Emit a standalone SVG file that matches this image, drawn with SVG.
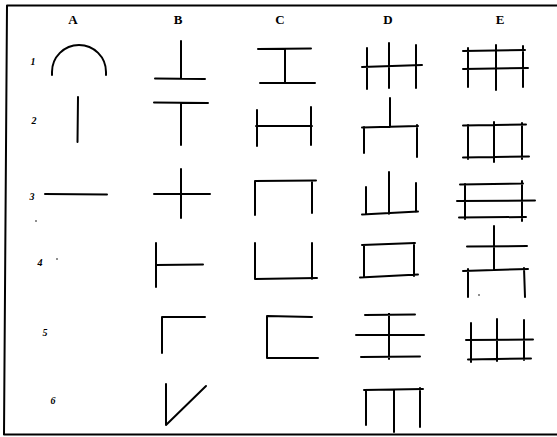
<svg xmlns="http://www.w3.org/2000/svg" width="557" height="437" viewBox="0 0 557 437">
<style>
.s{fill:none;stroke:#000;stroke-width:2;stroke-linecap:round;stroke-linejoin:round}
.h{font-family:"Liberation Serif",serif;font-size:13px;font-weight:bold;text-anchor:middle;fill:#000}
.n{font-family:"Liberation Serif",serif;font-size:10px;font-weight:bold;font-style:italic;text-anchor:middle;fill:#000}
</style>
<rect width="557" height="437" fill="#fff"/>
<!-- frame -->
<path class="s" d="M7,5.5 L557,5.5 M7,5.5 L4,434.5 L557,434.5"/>
<!-- headers -->
<text class="h" x="73" y="24">A</text>
<text class="h" x="178" y="24">B</text>
<text class="h" x="280" y="24">C</text>
<text class="h" x="388" y="24">D</text>
<text class="h" x="500" y="24">E</text>
<!-- row numbers -->
<text class="n" x="33" y="65">1</text>
<text class="n" x="34" y="124">2</text>
<text class="n" x="32" y="200">3</text>
<text class="n" x="40" y="266">4</text>
<text class="n" x="45" y="336">5</text>
<text class="n" x="53" y="404">6</text>
<circle cx="36" cy="221" r="0.8" fill="#000"/>
<circle cx="57" cy="259" r="0.8" fill="#000"/>
<!-- A -->
<path class="s" d="M52,75 L52,72 A27,27 0 0 1 106,72 L106,75"/>
<path class="s" d="M78,97 L77.5,142"/>
<path class="s" d="M45,194 L107,194.5"/>
<!-- B -->
<path class="s" d="M181,41 L181,79 M155,78.5 L205,79"/>
<path class="s" d="M154,102.5 L208,103 M181,103 L181,145"/>
<path class="s" d="M154,194 L210,194 M181,169 L181,218"/>
<path class="s" d="M156,243 L156,287 M156,265 L203,264.5"/>
<path class="s" d="M162,353 L162,317 L205,317"/>
<path class="s" d="M166,384 L166,425 L206,386"/>
<!-- C -->
<path class="s" d="M258,49 L311,48.5 M285,49 L285,83 M260,83 L315,83"/>
<path class="s" d="M257,110 L257,146 M256,126 L312,126 M311,107 L311,145"/>
<path class="s" d="M255,215 L255,181 L316,180.5 M312,181 L312,213"/>
<path class="s" d="M255,243 L255,279 L317,278 M312,243 L312,279"/>
<path class="s" d="M312,317 L267,316 L267,358 L318,358"/>
<!-- D -->
<path class="s" d="M362,67 L422,65 M367,48 L367,89 M389,43 L389,88 M416,45 L416,88"/>
<path class="s" d="M390,98 L390,127 M362,127.5 L418,126 M364,127 L364,153 M417,125 L417,157"/>
<path class="s" d="M366,187 L366,214 M389,172 L389,214 M416,183 L416,212 M362,214.5 L418,211.5"/>
<path class="s" d="M362,245 L415,243 M364,245 L364,277 M414,243 L414,276 M360,277.5 L418,274.5"/>
<path class="s" d="M365,315 L415,314.5 M356,335 L424,335 M361,357 L420,356.5 M389,314 L389,359"/>
<path class="s" d="M364,390 L423,389 M366,390 L366,425 M394,390 L394,432 M420,388 L420,427"/>
<!-- E -->
<path class="s" d="M463,51 L525,50 M463,69 L528,68 M468,48 L468,87 M496,45 L496,90 M523,46 L523,87"/>
<path class="s" d="M463,125.5 L526,124.5 M463,157.5 L529,156.5 M468,125 L468,159 M494,122 L494,162 M522,123 L522,159"/>
<path class="s" d="M460,184.5 L523,183.5 M457,201 L535,200.5 M459,217.5 L526,217 M465,184 L465,219 M522,181 L522,221"/>
<path class="s" d="M494,226 L494,270 M467,246.5 L527,246 M463,271 L528,269 M468,269 L468,297 M524,268 L525,297"/>
<circle cx="479" cy="295" r="0.8" fill="#000"/>
<path class="s" d="M466,340 L533,339.5 M468,359.5 L531,358.5 M471,323 L471,362 M497,319 L497,361 M524,320 L524,360"/>
</svg>
